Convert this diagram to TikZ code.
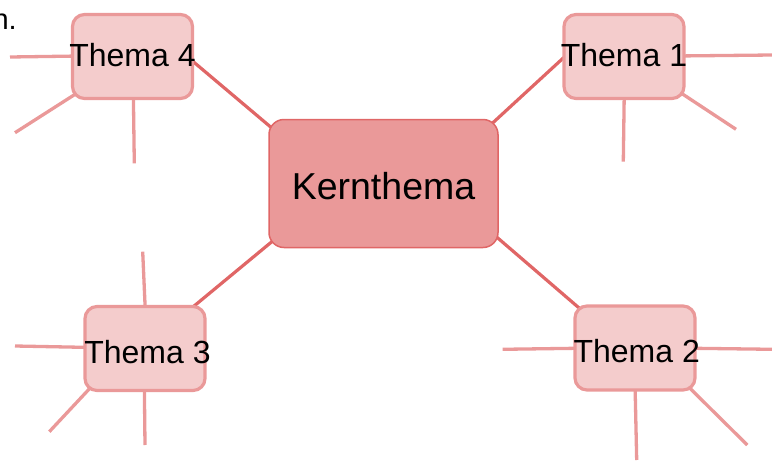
\documentclass[tikz,border=0pt]{standalone}
\usepackage{fontspec}
\setmainfont{Liberation Sans}
\usetikzlibrary{calc,backgrounds}
\definecolor{kfill}{HTML}{EA9999}
\definecolor{kdraw}{HTML}{E06666}
\definecolor{tfill}{HTML}{F4CCCC}
\definecolor{tdraw}{HTML}{EA9999}
\begin{document}
\begin{tikzpicture}[x=1pt, y=-1pt,
  core/.style={draw=kdraw, fill=kfill, line width=1.5pt, rounded corners=15pt,
    minimum width=229pt, minimum height=128pt, inner sep=0pt,
    text height=31.6pt, text depth=0pt, font=\fontsize{37.5}{42}\selectfont},
  topic/.style={draw=tdraw, fill=tfill, line width=3.2pt, rounded corners=12pt,
    minimum width=120pt, minimum height=84pt, inner sep=0pt,
    text depth=0pt, font=\fontsize{32}{37}\selectfont},
  link/.style={draw=kdraw, line width=3.2pt},
  leg/.style={draw=tdraw, line width=3.3pt}]
\useasboundingbox (0,0) rectangle (772,461);

\node[anchor=base east, inner sep=0pt, font=\fontsize{29}{34}\selectfont] (cut) at (17,29.3) {n.};

\node[core] (k) at (383.5,183.5) {Kernthema};
\node[topic, text height=20.4pt] (t4) at (132.5,56.5) {\makebox[0pt]{Thema 4}};
\node[topic, text height=20.4pt] (t1) at (624,56.5) {\makebox[0pt]{Thema 1}};
\node[topic, text height=29.6pt] (t3) at (145,348.5) {\makebox[0pt]{\hspace{5pt}Thema 3}};
\node[topic, text height=29.4pt] (t2) at (635,348) {\makebox[0pt]{\hspace{3.4pt}Thema 2}};

\coordinate (t4a) at (10,57);
\coordinate (t4b) at (15,132.7);
\coordinate (t4c) at (134.3,163.3);
\coordinate (t1a) at (772,55);
\coordinate (t1b) at (736,129.3);
\coordinate (t1c) at (623.3,161.7);
\coordinate (t3a) at (142.7,251.7);
\coordinate (t3b) at (15,346);
\coordinate (t3c) at (49.3,431.7);
\coordinate (t3d) at (145,445);
\coordinate (t2a) at (502.7,349.3);
\coordinate (t2b) at (772,349.3);
\coordinate (t2c) at (747.3,445);
\coordinate (t2d) at (636.7,460);

\begin{scope}[on background layer]
  \draw[link] ($(t4.east)+(-9,-1.7)$) -- ($(k.north west)+(13.7,17.8)$);
  \draw[link] ($(t1.west)+(8.7,-5.7)$) -- ($(k.north east)+(-19,16.1)$);
  \draw[link] ($(t3.north east)+(-19,6.5)$) -- ($(k.south west)+(15,-16)$);
  \draw[link] ($(t2.north west)+(15,11.6)$) -- ($(k.south east)+(-13,-20.6)$);

  \draw[leg] ($(t4.center)+(-52.5,-0.5)$) -- (t4a);
  \draw[leg] ($(t4.center)+(-48.5,32.1)$) -- (t4b);
  \draw[leg] ($(t4.center)+(0.8,33.5)$) -- (t4c);

  \draw[leg] ($(t1.center)+(52,-0.5)$) -- (t1a);
  \draw[leg] ($(t1.center)+(50,31.9)$) -- (t1b);
  \draw[leg] ($(t1.center)+(0.3,33.5)$) -- (t1c);

  \draw[leg] ($(t3.center)+(0.4,-35.5)$) -- (t3a);
  \draw[leg] ($(t3.center)+(-52,-1)$) -- (t3b);
  \draw[leg] ($(t3.center)+(-50,34.3)$) -- (t3c);
  \draw[leg] ($(t3.center)+(-0.7,34.5)$) -- (t3d);

  \draw[leg] ($(t2.center)+(-52,0.2)$) -- (t2a);
  \draw[leg] ($(t2.center)+(52,0.2)$) -- (t2b);
  \draw[leg] ($(t2.center)+(49,34.4)$) -- (t2c);
  \draw[leg] ($(t2.center)+(0,35)$) -- (t2d);
\end{scope}
\end{tikzpicture}
\end{document}
